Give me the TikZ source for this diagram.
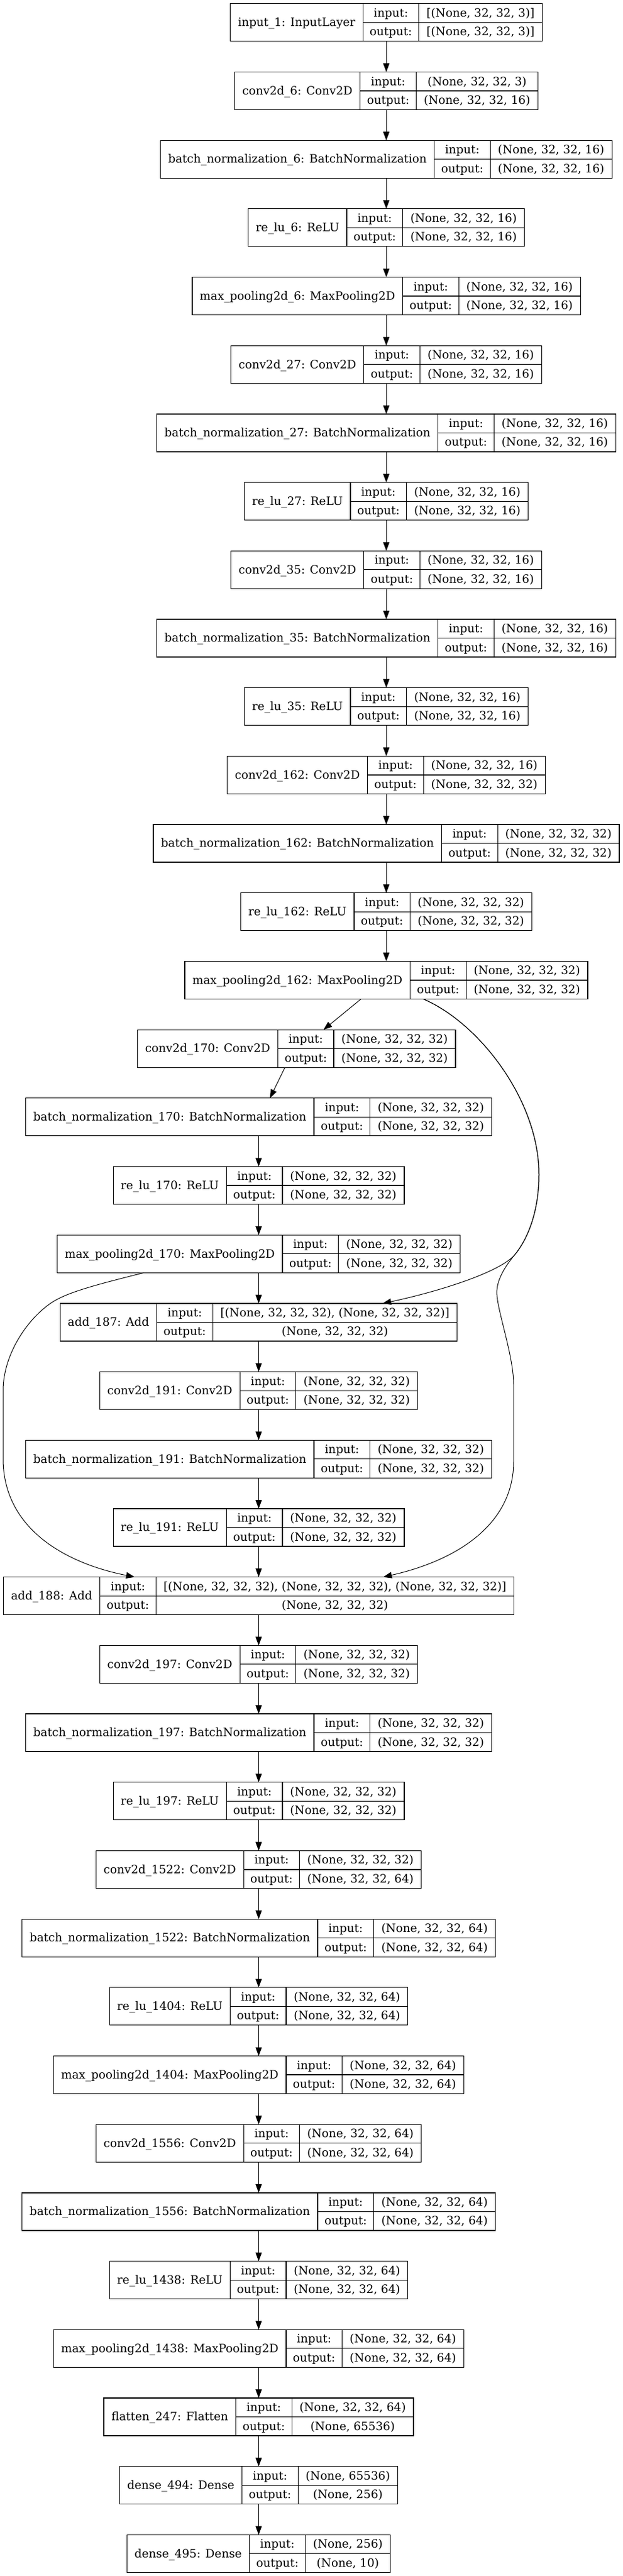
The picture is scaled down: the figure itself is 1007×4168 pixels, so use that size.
\documentclass[tikz,border=0pt]{standalone}
\usepackage{fontspec}
\setmainfont{DejaVu Serif}
\usetikzlibrary{calc,arrows.meta}
\font\lprim="DejaVu Serif" at 14pt
\newlength\lwA \newlength\lwB \newlength\lwC \newlength\lwD \newlength\lwE \newlength\lwF \newlength\lwT
\tikzset{
  lbox/.style={draw=black, line width=0.9pt, rectangle, inner sep=0pt, outer sep=0pt, minimum height=45.75pt},
  lrule/.style={draw=black, line width=0.9pt},
  ltext/.style={anchor=base, inner sep=0pt, font=\lprim},
  edge/.style={draw=black, line width=0.75pt, -{Triangle[length=10.5pt,width=7.6pt]}}
}
\newcommand\layer[6]{%
  \settowidth\lwA{\lprim #4}\addtolength\lwA{18.5pt}%
  \settowidth\lwB{\lprim #5}\settowidth\lwC{\lprim #6}%
  \ifdim\lwC>\lwB \lwB=\lwC\fi
  \addtolength\lwB{18.6pt}%
  \lwT=\lwA \advance\lwT by 67.95pt \advance\lwT by \lwB
  \lwC=\lwA \advance\lwC by 67.95pt
  \lwD=0.5\lwA
  \lwE=\lwA \advance\lwE by 33.975pt
  \lwF=0.5\lwB \advance\lwF by \lwC
  \node[lbox, minimum width=\lwT] (#1) at (#2,#3) {};
  \draw[lrule] ([xshift=\lwA]#1.north west) -- ([xshift=\lwA]#1.south west);
  \draw[lrule] ([xshift=\lwC]#1.north west) -- ([xshift=\lwC]#1.south west);
  \draw[lrule] ([xshift=\lwA]#1.west) -- (#1.east);
  \node[ltext] (#1-name) at ([xshift=\lwD,yshift=-4.7pt]#1.west) {#4};
  \node[ltext] (#1-il) at ([xshift=\lwE,yshift=6.74pt]#1.west) {input:};
  \node[ltext] (#1-ol) at ([xshift=\lwE,yshift=-16.14pt]#1.west) {output:};
  \node[ltext] (#1-iv) at ([xshift=\lwF,yshift=6.74pt]#1.west) {#5};
  \node[ltext] (#1-ov) at ([xshift=\lwF,yshift=-16.14pt]#1.west) {#6};
}
\newcommand\sA{(None, 32, 32, 3)}
\newcommand\sB{(None, 32, 32, 16)}
\newcommand\sC{(None, 32, 32, 32)}
\newcommand\sD{(None, 32, 32, 64)}
\begin{document}
\begin{tikzpicture}[x=0.75pt,y=-0.75pt]
\useasboundingbox (0,0) rectangle (1007,4168);
\layer{in1}{625}{36.3}{input\_1: InputLayer}{[\sA]}{[\sA]}
\layer{c6}{625}{146.99}{conv2d\_6: Conv2D}{\sA}{\sB}
\layer{bn6}{625}{257.68}{batch\_normalization\_6: BatchNormalization}{\sB}{\sB}
\layer{r6}{625}{368.37}{re\_lu\_6: ReLU}{\sB}{\sB}
\layer{mp6}{625}{479.06}{max\_pooling2d\_6: MaxPooling2D}{\sB}{\sB}
\layer{c27}{625}{589.75}{conv2d\_27: Conv2D}{\sB}{\sB}
\layer{bn27}{625}{700.44}{batch\_normalization\_27: BatchNormalization}{\sB}{\sB}
\layer{r27}{625}{811.13}{re\_lu\_27: ReLU}{\sB}{\sB}
\layer{c35}{625}{921.82}{conv2d\_35: Conv2D}{\sB}{\sB}
\layer{bn35}{625}{1032.51}{batch\_normalization\_35: BatchNormalization}{\sB}{\sB}
\layer{r35}{625}{1143.2}{re\_lu\_35: ReLU}{\sB}{\sB}
\layer{c162}{625}{1253.89}{conv2d\_162: Conv2D}{\sB}{\sC}
\layer{bn162}{625}{1364.58}{batch\_normalization\_162: BatchNormalization}{\sC}{\sC}
\layer{r162}{625}{1475.27}{re\_lu\_162: ReLU}{\sC}{\sC}
\layer{mp162}{625}{1585.96}{max\_pooling2d\_162: MaxPooling2D}{\sC}{\sC}
\layer{c170}{479.8}{1696.65}{conv2d\_170: Conv2D}{\sC}{\sC}
\layer{bn170}{418.5}{1807.34}{batch\_normalization\_170: BatchNormalization}{\sC}{\sC}
\layer{r170}{418.5}{1918.03}{re\_lu\_170: ReLU}{\sC}{\sC}
\layer{mp170}{418.5}{2028.72}{max\_pooling2d\_170: MaxPooling2D}{\sC}{\sC}
\layer{add187}{418.5}{2139.41}{add\_187: Add}{[\sC, \sC]}{\sC}
\layer{c191}{418.5}{2250.1}{conv2d\_191: Conv2D}{\sC}{\sC}
\layer{bn191}{418.5}{2360.79}{batch\_normalization\_191: BatchNormalization}{\sC}{\sC}
\layer{r191}{418.5}{2471.48}{re\_lu\_191: ReLU}{\sC}{\sC}
\layer{add188}{418.5}{2582.17}{add\_188: Add}{[\sC, \sC, \sC]}{\sC}
\layer{c197}{418.5}{2692.86}{conv2d\_197: Conv2D}{\sC}{\sC}
\layer{bn197}{418.5}{2803.55}{batch\_normalization\_197: BatchNormalization}{\sC}{\sC}
\layer{r197}{418.5}{2914.24}{re\_lu\_197: ReLU}{\sC}{\sC}
\layer{c1522}{418.5}{3024.93}{conv2d\_1522: Conv2D}{\sC}{\sD}
\layer{bn1522}{418.5}{3135.62}{batch\_normalization\_1522: BatchNormalization}{\sD}{\sD}
\layer{r1404}{418.5}{3246.31}{re\_lu\_1404: ReLU}{\sD}{\sD}
\layer{mp1404}{418.5}{3357.0}{max\_pooling2d\_1404: MaxPooling2D}{\sD}{\sD}
\layer{c1556}{418.5}{3467.69}{conv2d\_1556: Conv2D}{\sD}{\sD}
\layer{bn1556}{418.5}{3578.38}{batch\_normalization\_1556: BatchNormalization}{\sD}{\sD}
\layer{r1438}{418.5}{3689.07}{re\_lu\_1438: ReLU}{\sD}{\sD}
\layer{mp1438}{418.5}{3799.76}{max\_pooling2d\_1438: MaxPooling2D}{\sD}{\sD}
\layer{fl247}{418.5}{3910.45}{flatten\_247: Flatten}{\sD}{(None, 65536)}
\layer{d494}{418.5}{4021.14}{dense\_494: Dense}{(None, 65536)}{(None, 256)}
\layer{d495}{418.5}{4131.83}{dense\_495: Dense}{(None, 256)}{(None, 10)}
% straight edges
\foreach \a/\b in {in1/c6,c6/bn6,bn6/r6,r6/mp6,mp6/c27,c27/bn27,bn27/r27,r27/c35,c35/bn35,bn35/r35,r35/c162,c162/bn162,bn162/r162,r162/mp162,
  bn170/r170,r170/mp170,mp170/add187,add187/c191,c191/bn191,bn191/r191,r191/add188,add188/c197,c197/bn197,bn197/r197,r197/c1522,
  c1522/bn1522,bn1522/r1404,r1404/mp1404,mp1404/c1556,c1556/bn1556,bn1556/r1438,r1438/mp1438,mp1438/fl247,fl247/d494,d494/d495}
  \draw[edge] (\a.south) -- (\b.north);
\draw[edge] ($(mp162.south)+(-41,0)$) -- ($(c170.north)+(43.6,0)$);
\draw[edge] ($(c170.south)+(-18.8,0)$) -- ($(bn170.north)+(18.2,0)$);
% skip connections
\draw[edge] ($(mp162.south)+(60,0)$) .. controls (775,1655) and (872,1780) .. (872,1900)
  .. controls (872,1970) and (848,2012) .. (833,2030)
  .. controls (808,2060) and (700,2092) .. ($(add187.north)+(200.5,0)$);
\draw[edge] ($(mp162.south)+(60,0)$) .. controls (775,1655) and (872,1780) .. (872,1900)
  .. controls (872,1970) and (848,2012) .. (833,2030)
  .. controls (818,2048) and (802,2072) .. (804,2095)
  .. controls (806,2125) and (831,2195) .. (831,2240)
  -- (831,2365)
  .. controls (831,2460) and (750,2522) .. ($(add188.north)+(201.5,0)$);
\draw[edge] ($(mp170.south)+(-185.5,0)$) .. controls (150,2080) and (105,2092) .. (80,2110)
  .. controls (40,2139) and (5,2195) .. (5,2250)
  -- (5,2360)
  .. controls (5,2470) and (100,2528) .. ($(add188.north)+(-200.5,0)$);
\end{tikzpicture}
\end{document}
